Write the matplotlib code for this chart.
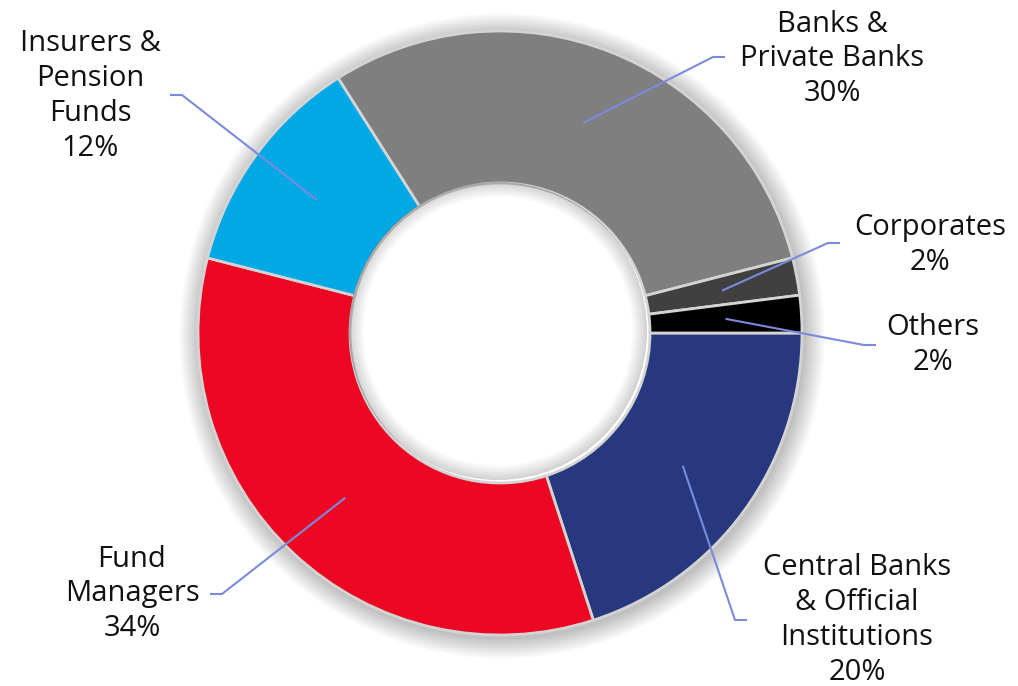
import numpy as np
import matplotlib.pyplot as plt
from matplotlib.patches import Circle, Wedge

# Datos del gráfico (orden horario desde las 3 en punto)
categorias = ["Central Banks\n& Official\nInstitutions", "Fund\nManagers",
              "Insurers &\nPension\nFunds", "Banks &\nPrivate Banks",
              "Corporates", "Others"]
porcentajes = [20, 34, 12, 30, 2, 2]
colores = ["#27387f", "#ec0722", "#00a9e6", "#7f7f7f", "#404040", "#000000"]

# Posición de cada etiqueta (texto y codo de la línea guía), en píxeles de la imagen
pos_texto = [(857, 620), (132, 594), (90, 96), (832, 59), (930, 245), (933, 345)]
pos_codo = [(735, 620), (222, 594), (182, 95), (713, 57), (828, 243), (864, 345)]

W, H = 1018, 686
cx, cy = 500, H - 333
r_ext, r_int = 302, 150

plt.rcParams["font.family"] = ["Open Sans", "DejaVu Sans"]
fig = plt.figure(figsize=(W / 100, H / 100), dpi=100)
ax = fig.add_axes([0, 0, 1, 1])

# Sombra difusa alrededor del anillo
for d in np.arange(1, 22, 1.0):
    ax.add_patch(Circle((cx + 2, cy - 3), r_ext + d, color="#000000",
                        alpha=0.011, lw=0, zorder=1))

wedges, _ = ax.pie(porcentajes, colors=colores, startangle=0, counterclock=False,
                   radius=r_ext, center=(cx, cy),
                   wedgeprops=dict(width=r_ext - r_int, edgecolor="#d4d4d4",
                                   linewidth=2))
for w in wedges:
    w.set_zorder(3)

# Hueco blanco con sombra interior
ax.add_patch(Circle((cx, cy), r_int, color="white", lw=0, zorder=2))
for d in np.arange(1, 16, 1.0):
    ax.add_patch(Wedge((cx - 2, cy + 2), r_int - 1, 0, 360, width=d,
                       color="#000000", alpha=0.01, lw=0, zorder=4))

r_med = (r_ext + r_int) / 2
for w, cat, p, (tx, ty), (ex, ey) in zip(wedges, categorias, porcentajes,
                                          pos_texto, pos_codo):
    ang = np.deg2rad((w.theta1 + w.theta2) / 2)
    ax_, ay_ = cx + r_med * np.cos(ang), cy + r_med * np.sin(ang)
    fin = ex + 12 if tx > ex else ex - 12
    ax.plot([ax_, ex, fin], [ay_, H - ey, H - ey], color="#7b8bdc",
            lw=1.5, zorder=6, solid_capstyle="butt")
    ax.text(tx, H - ty, f"{cat}\n{p}%", ha="center", va="center",
            fontsize=21, color="#111111", linespacing=1.27, zorder=7)

ax.set_xlim(0, W)
ax.set_ylim(0, H)
ax.set_aspect("equal")
ax.axis("off")

fig.savefig("out.png", dpi=100)
plt.close(fig)
